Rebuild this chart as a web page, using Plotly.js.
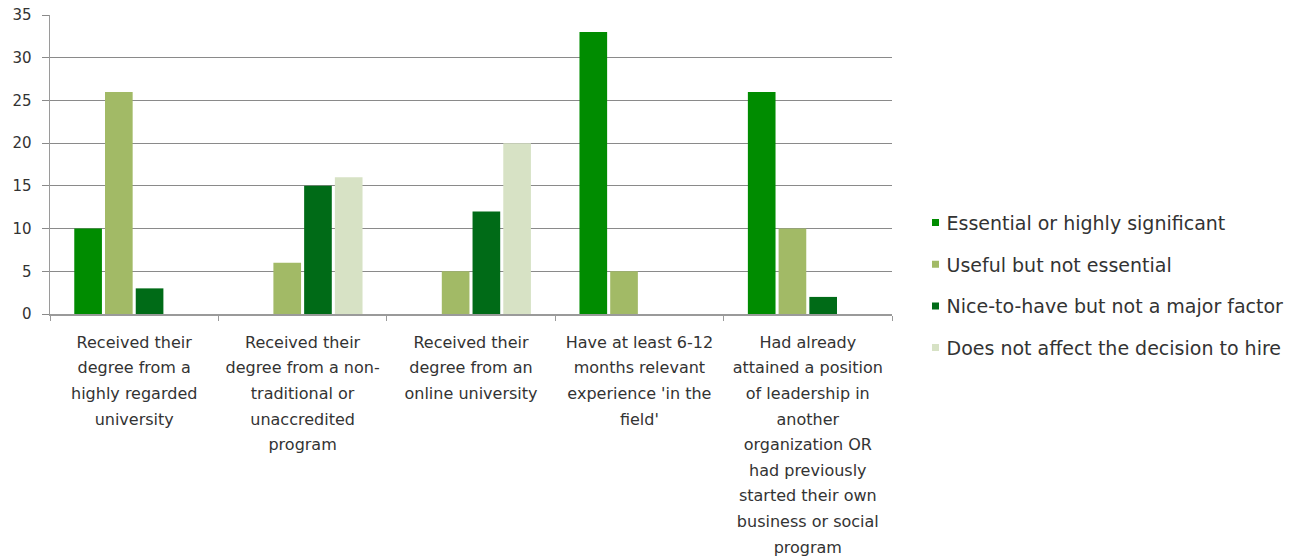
<!DOCTYPE html>
<html>
<head>
<meta charset="utf-8">
<script src="https://cdn.plot.ly/plotly-3.0.1.min.js"></script>
<style>html,body{margin:0;padding:0;background:#fff;}</style>
</head>
<body>
<div id="chart" style="width:1295px;height:558px;"></div>
<script>
const categories = [
  "Received their<br>degree from a<br>highly regarded<br>university",
  "Received their<br>degree from a non-<br>traditional or<br>unaccredited<br>program",
  "Received their<br>degree from an<br>online university",
  "Have at least 6-12<br>months relevant<br>experience 'in the<br>field'",
  "Had already<br>attained a position<br>of leadership in<br>another<br>organization OR<br>had previously<br>started their own<br>business or social<br>program"
];
const seriesNames = [
  "Essential or highly significant",
  "Useful but not essential",
  "Nice-to-have but not a major factor",
  "Does not affect the decision to hire"
];
const essential = [10, 0, 0, 33, 26];
const useful = [26, 6, 5, 5, 10];
const niceToHave = [3, 15, 12, 0, 2];
const noEffect = [0, 16, 20, 0, 0];
const colors = ["#008c00", "#a2ba66", "#006b17", "#d7e2c5"];

const values = [essential, useful, niceToHave, noEffect];
const traces = values.map((v, i) => ({
  type: "bar",
  name: seriesNames[i],
  x: categories,
  y: v,
  marker: {color: colors[i], line: {width: 0}},
  legendgroup: "g" + i,
  hoverinfo: "y"
}));

const xFont = 16;
const layout = {
  width: 1295, height: 558,
  margin: {l: 50, r: 403, t: 15, b: 244, autoexpand: false},
  paper_bgcolor: "#fff", plot_bgcolor: "#fff",
  barmode: "group", bargap: 0.27, bargroupgap: 0.1,
  font: {family: "DejaVu Sans, sans-serif", color: "#333"},
  xaxis: {
    type: "category",
    showline: true, linecolor: "#9a9a9a", linewidth: 1.5,
    ticks: "outside", tickson: "boundaries", ticklen: 5, tickcolor: "#9a9a9a",
    showgrid: false,
    tickfont: {family: "DejaVu Sans, sans-serif", size: xFont, color: "#333"},
    tickangle: 0,
    ticklabelstandoff: 13,
    automargin: false
  },
  yaxis: {
    range: [0, 35], dtick: 5,
    showline: true, linecolor: "#9a9a9a", linewidth: 1.5,
    ticks: "outside", ticklen: 7, tickcolor: "#8a8a8a",
    showgrid: true, gridcolor: "#8a8a8a", gridwidth: 1.2,
    zeroline: false,
    tickfont: {family: "DejaVu Sans, sans-serif", size: 15, color: "#333"},
    ticklabelstandoff: 7,
    automargin: false
  },
  legend: {
    xref: "container", yref: "container",
    x: 0.700, xanchor: "left", y: 0.489, yanchor: "middle",
    font: {family: "DejaVu Sans, sans-serif", size: 19, color: "#333"},
    tracegroupgap: 14, bgcolor: "rgba(0,0,0,0)"
  },
  showlegend: true
};

Plotly.newPlot("chart", traces, layout, {displayModeBar: false, staticPlot: true}).then(function (gd) {
  // widen line spacing of multi-line category labels
  const k = 25.6 / (xFont * 1.3);
  gd.querySelectorAll(".xtick text tspan.line").forEach(function (t) {
    const dy = t.getAttribute("dy");
    if (dy && /em$/.test(dy)) {
      t.setAttribute("dy", (parseFloat(dy) * k) + "em");
    }
  });
  // smaller legend squares, placed closer to the text
  gd.querySelectorAll(".legend .legendpoints path").forEach(function (p) {
    p.setAttribute("d", "M12.5,3.5H5.5V-3.5H12.5Z");
  });
});
</script>
</body>
</html>
